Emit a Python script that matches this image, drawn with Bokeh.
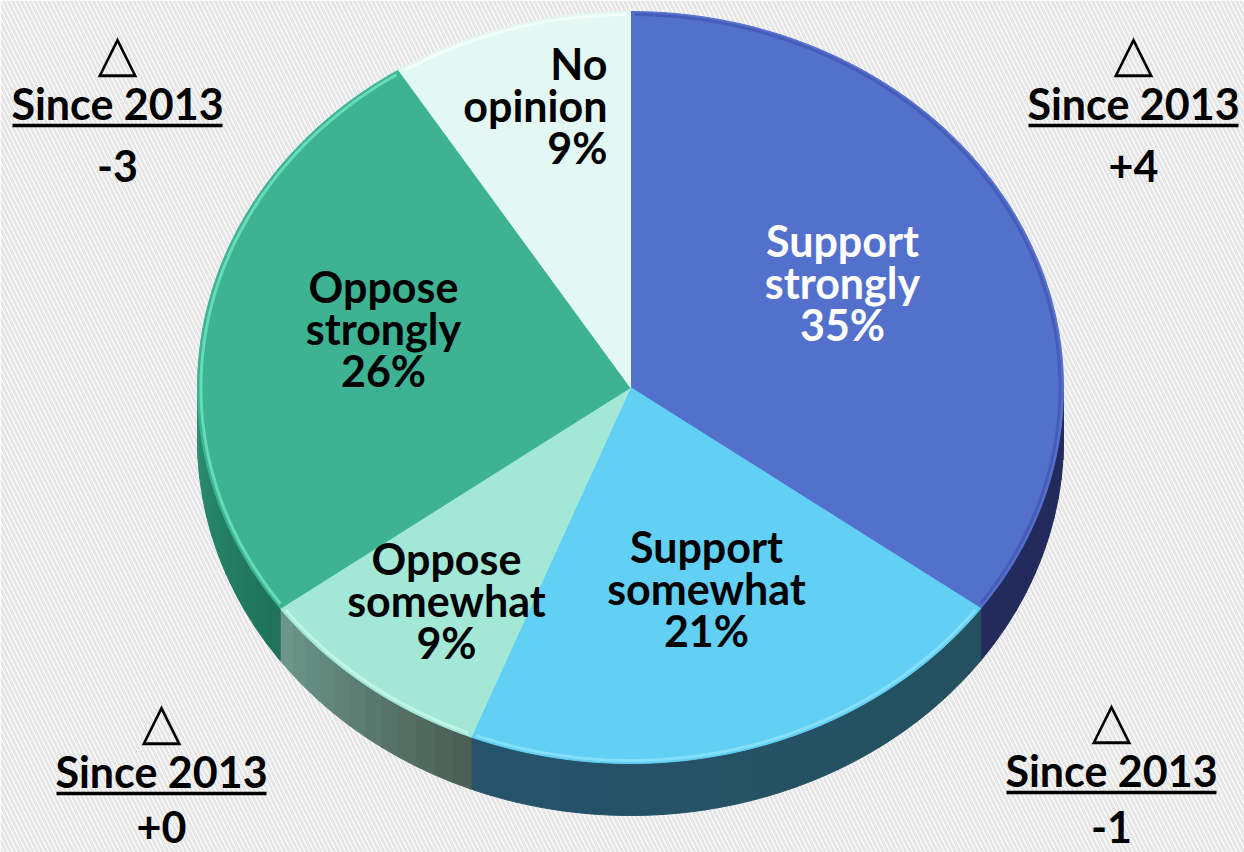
import numpy as np
from bokeh.plotting import figure
from bokeh.models import Range1d, ColumnDataSource
from bokeh.core.properties import value
from bokeh.embed import file_html
from bokeh.resources import INLINE

# ---- data -------------------------------------------------------------
categories = ["Support strongly", "Support somewhat", "Oppose somewhat",
              "Oppose strongly", "No opinion"]
shares = [35, 21, 9, 26, 9]

change_title = "Since 2013"
change_values = ["-3", "+4", "+0", "-1"]   # top-left, top-right, bottom-left, bottom-right

# ---- styles -----------------------------------------------------------
top_colors = ["#5470cd", "#62cff5", "#a3e8d6", "#3db393", "#e3f8f3"]
rim_colors = ["#4458b4", "#8fe4fb", "#c8f7ea", "#6fe6c0", "#f4fffb"]
side_from = ["#232b5c", "#24505f", "#4a5d54", "#1f7258", "#cfe9e2"]
side_to = ["#232b5c", "#25536a", "#6c988b", "#2b9072", "#cfe9e2"]
label_colors = ["white", "black", "black", "black", "black"]
label_align = ["center", "center", "center", "center", "right"]
label_pos = [(842, 282), (706, 588), (446, 600), (383, 328), (607, 105)]

W, H = 1244, 852
cx, cy = 630, 387          # centre of the top face
rx, ry = 433, 376          # radii of the top face
depth = 52                 # thickness of the disc
FONT = "Lato"
FS = "43px"
BASE_SHIFT = 15            # alphabetic baseline correction for the svg renderer


def arc(t0, t1, scale=1.0, dy=0.0, n=120):
    t = np.linspace(t0, t1, max(2, int(n * (t1 - t0) / np.pi) + 2))
    return cx + scale * rx * np.sin(t), cy - scale * ry * np.cos(t) + dy


def mix(c0, c1, f):
    a = np.array([int(c0[i:i + 2], 16) for i in (1, 3, 5)])
    b = np.array([int(c1[i:i + 2], 16) for i in (1, 3, 5)])
    c = np.round(a + (b - a) * f).astype(int)
    return "#%02x%02x%02x" % tuple(c)


p = figure(width=W, height=H, x_range=Range1d(0, W), y_range=Range1d(H, 0),
           output_backend="svg", toolbar_location=None, min_border=0)
p.axis.visible = False
p.grid.visible = False
p.outline_line_color = None
p.background_fill_color = "white"
p.border_fill_color = "white"

# striped backdrop
p.quad(left=[0], right=[W], top=[0], bottom=[H], fill_color="white",
       line_color=None, hatch_pattern="\\", hatch_color="#e6e6e6",
       hatch_weight=3, hatch_scale=9)

# slice angles (clockwise from 12 o'clock)
fr = np.array(shares, dtype=float) / sum(shares)
ends = np.cumsum(fr) * 2 * np.pi
starts = ends - fr * 2 * np.pi

# side walls, visible on the front half only
sx, sy, sc = [], [], []
for i in range(len(categories)):
    a, b = max(starts[i], np.pi / 2), min(ends[i], 3 * np.pi / 2)
    if b <= a:
        continue
    steps = 12
    edges = np.linspace(a, b, steps + 1)
    for k in range(steps):
        x1, y1 = arc(edges[k], edges[k + 1] + 0.002)
        x2, y2 = arc(edges[k], edges[k + 1] + 0.002, dy=depth)
        sx.append(np.concatenate([x1, x2[::-1]]))
        sy.append(np.concatenate([y1, y2[::-1]]))
        sc.append(mix(side_from[i], side_to[i], (k + 0.5) / steps))
p.patches(xs=sx, ys=sy, fill_color=sc, line_color=sc, line_width=1)

# top face
tx, ty = [], []
for i in range(len(categories)):
    x, y = arc(starts[i], ends[i])
    tx.append(np.concatenate([[cx], x]))
    ty.append(np.concatenate([[cy], y]))
p.patches(xs=tx, ys=ty, fill_color=top_colors, line_color=top_colors, line_width=1)

# soft bevel along the rim
rxs, rys = [], []
for i in range(len(categories)):
    x, y = arc(starts[i] + 0.01, ends[i] - 0.01, scale=0.992)
    rxs.append(x)
    rys.append(y)
p.multi_line(xs=rxs, ys=rys, line_color=rim_colors, line_width=3, line_alpha=0.8)

# slice labels
texts = []
for name, s in zip(categories, shares):
    w1, w2 = name.split(" ")
    texts.append(f"{w1}\n{w2}\n{s}%")
lab = ColumnDataSource(dict(x=[q[0] for q in label_pos], y=[q[1] for q in label_pos],
                            text=texts, color=label_colors, align=label_align))
p.text(x="x", y="y", text="text", source=lab, text_color="color",
       text_align="align", text_baseline="middle", text_font=value(FONT),
       text_font_style="bold", text_font_size=FS, text_line_height=0.83)

# change-since-2013 corners
corner_x = [117, 1133, 161, 1111]
corner_base = [118, 118, 786, 785]
value_base = [180, 180, 841, 841]
tri = ColumnDataSource(dict(x=corner_x, y=[b - 66 for b in corner_base],
                            text=["\u25b3"] * 4))
p.text(x="x", y="y", text="text", source=tri, text_align="center",
       text_baseline="middle", text_font=value("DejaVu Sans"),
       text_font_size="52px", text_color="black")

ttl = ColumnDataSource(dict(x=corner_x, y=[b - BASE_SHIFT for b in corner_base],
                            text=[change_title] * 4))
p.text(x="x", y="y", text="text", source=ttl, text_align="center",
       text_baseline="alphabetic", text_font=value(FONT), text_font_style="bold",
       text_font_size=FS, text_color="black")
p.segment(x0=[x - 105 for x in corner_x], x1=[x + 105 for x in corner_x],
          y0=[b + 7 for b in corner_base], y1=[b + 7 for b in corner_base],
          line_color="black", line_width=3.5)

val = ColumnDataSource(dict(x=corner_x, y=[b - BASE_SHIFT for b in value_base],
                            text=change_values))
p.text(x="x", y="y", text="text", source=val, text_align="center",
       text_baseline="alphabetic", text_font=value(FONT), text_font_style="bold",
       text_font_size=FS, text_color="black")

open("out.html", "w").write(file_html(p, INLINE))
